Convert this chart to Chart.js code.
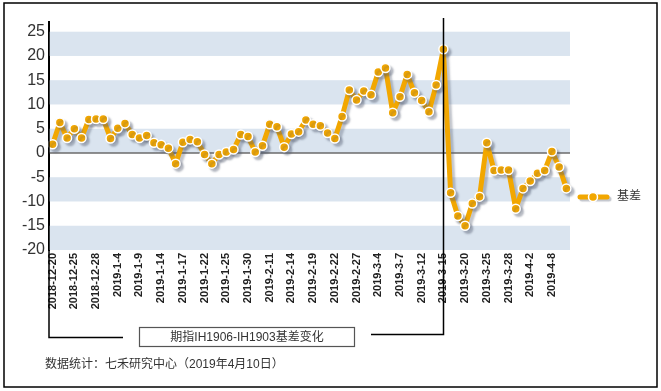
<!DOCTYPE html>
<html>
<head>
<meta charset="utf-8">
<script src="https://cdn.jsdelivr.net/npm/chart.js@4"></script>
<style>
	body { margin: 0; background: #fff; }
	#wrap { width: 661px; height: 391px; }
</style>
</head>
<body>
<div id="wrap"><canvas id="basisChart" width="661" height="391"></canvas></div>
<script>
//IH1906-IH1903 basis, daily

const tradeDates = [
	"2018-12-20", "2018-12-21", "2018-12-24", "2018-12-25", "2018-12-26", "2018-12-27", "2018-12-28",
	"2019-1-2", "2019-1-3", "2019-1-4", "2019-1-7", "2019-1-8", "2019-1-9", "2019-1-10", "2019-1-11",
	"2019-1-14", "2019-1-15", "2019-1-16", "2019-1-17", "2019-1-18",
	"2019-1-21", "2019-1-22", "2019-1-23", "2019-1-24", "2019-1-25",
	"2019-1-28", "2019-1-29", "2019-1-30", "2019-1-31", "2019-2-1",
	"2019-2-11", "2019-2-12", "2019-2-13", "2019-2-14", "2019-2-15",
	"2019-2-18", "2019-2-19", "2019-2-20", "2019-2-21", "2019-2-22",
	"2019-2-25", "2019-2-26", "2019-2-27", "2019-2-28", "2019-3-1",
	"2019-3-4", "2019-3-5", "2019-3-6", "2019-3-7", "2019-3-8",
	"2019-3-11", "2019-3-12", "2019-3-13", "2019-3-14", "2019-3-15",
	"2019-3-18", "2019-3-19", "2019-3-20", "2019-3-21", "2019-3-22",
	"2019-3-25", "2019-3-26", "2019-3-27", "2019-3-28", "2019-3-29",
	"2019-4-1", "2019-4-2", "2019-4-3", "2019-4-4",
	"2019-4-8", "2019-4-9", "2019-4-10",
];
const basisValues = [
	1.8, 6.3, 3.1, 5.0, 3.1, 6.9, 7.0,
	7.0, 3.0, 5.1, 6.1, 3.8, 3.1, 3.6, 2.1,
	1.7, 1.0, -2.2, 2.2, 2.8,
	2.3, -0.3, -2.2, -0.3, 0.2,
	0.7, 3.8, 3.4, 0.2, 1.5,
	5.9, 5.4, 1.2, 3.9, 4.4,
	6.8, 5.9, 5.6, 4.1, 3.0,
	7.5, 13.0, 10.9, 12.8, 12.0,
	16.7, 17.5, 8.3, 11.6, 16.2,
	12.4, 10.8, 8.5, 14.0, 21.4,
	-8.2, -13.0, -15.0, -10.4, -9.0,
	2.1, -3.6, -3.5, -3.5, -11.5,
	-7.3, -5.8, -4.2, -3.6,
	0.3, -2.9, -7.3,
];
const yTickValues = [25, 20, 15, 10, 5, 0, -5, -10, -15, -20];
const shadedBands = [[20, 25], [10, 15], [0, 5], [-10, -5], [-20, -15]];
const seriesName = "基差";
const boxTitle = "期指IH1906-IH1903基差变化";
const sourceNote = "数据统计：七禾研究中心（2019年4月10日）";
const markerDate = "2019-3-15";

const orange = "#f2a700";
const cjkFont = "'Liberation Sans', Arial, 'Noto Sans CJK SC', sans-serif";

// background bands behind the line
const bandPlugin = {
	id: "bands",
	beforeDatasetsDraw(chart) {
		const ctx = chart.ctx;
		const y = chart.scales.y;
		const area = chart.chartArea;
		ctx.save();
		ctx.fillStyle = "#dae4ef";
		shadedBands.forEach(b => {
			const top = y.getPixelForValue(b[1]);
			const bottom = y.getPixelForValue(b[0]);
			ctx.fillRect(area.left, top, area.right - area.left, bottom - top);
		});
		// zero line
		const z = y.getPixelForValue(0);
		ctx.strokeStyle = "#6b6b6b";
		ctx.lineWidth = 1.5;
		ctx.beginPath();
		ctx.moveTo(area.left, z);
		ctx.lineTo(area.right, z);
		ctx.stroke();
		ctx.restore();
	},
	beforeDatasetDraw(chart) {
		const ctx = chart.ctx;
		ctx.save();
		ctx.shadowColor = "rgba(80,90,110,0.35)";
		ctx.shadowOffsetX = 3;
		ctx.shadowOffsetY = 3;
		ctx.shadowBlur = 2;
	},
	afterDatasetDraw(chart) {
		chart.ctx.restore();
	},
};

// brackets, box title, legend, note, frame
const decorPlugin = {
	id: "decor",
	afterDraw(chart) {
		const ctx = chart.ctx;
		const x = chart.scales.x;
		const area = chart.chartArea;
		ctx.save();
		ctx.strokeStyle = "#000";
		ctx.lineWidth = 1.5;

		// left bracket
		ctx.beginPath();
		ctx.moveTo(area.left, area.top);
		ctx.lineTo(area.left, 337.5);
		ctx.lineTo(123, 337.5);
		ctx.stroke();

		// divider at 2019-3-15
		const mx = Math.round(x.getPixelForValue(tradeDates.indexOf(markerDate))) + 0.5;
		ctx.beginPath();
		ctx.moveTo(mx, 18);
		ctx.lineTo(mx, 334.5);
		ctx.lineTo(371, 334.5);
		ctx.stroke();

		// title box
		ctx.strokeStyle = "#555";
		ctx.lineWidth = 1.2;
		ctx.strokeRect(139.5, 327.5, 215, 19);
		ctx.fillStyle = "#333";
		ctx.font = "12px " + cjkFont;
		ctx.textAlign = "center";
		ctx.textBaseline = "middle";
		ctx.fillText(boxTitle, 247, 337.5);

		// note
		ctx.textAlign = "left";
		ctx.fillText(sourceNote, 45, 365);

		// legend
		ctx.save();
		ctx.shadowColor = "rgba(80,90,110,0.35)";
		ctx.shadowOffsetX = 2;
		ctx.shadowOffsetY = 2;
		ctx.shadowBlur = 1;
		ctx.strokeStyle = orange;
		ctx.lineWidth = 5;
		ctx.lineCap = "round";
		ctx.beginPath();
		ctx.moveTo(580, 197);
		ctx.lineTo(607, 197);
		ctx.stroke();
		ctx.restore();
		ctx.beginPath();
		ctx.arc(593, 197, 4.5, 0, Math.PI * 2);
		ctx.fillStyle = orange;
		ctx.fill();
		ctx.strokeStyle = "#fff";
		ctx.lineWidth = 1.5;
		ctx.stroke();
		ctx.fillStyle = "#333";
		ctx.fillText(seriesName, 617, 197);

		// outer frame
		ctx.strokeStyle = "#000";
		ctx.lineWidth = 1.5;
		ctx.strokeRect(4, 3, 653, 384);
		ctx.restore();
	},
};

const basisData = {
	labels: tradeDates,
	datasets: [
		{
			label: seriesName,
			data: basisValues,
			borderColor: orange,
			backgroundColor: orange,
			borderWidth: 5,
			borderJoinStyle: "round",
			borderCapStyle: "round",
			tension: 0,
			pointRadius: 4.5,
			pointBorderWidth: 1.5,
			pointBorderColor: "#fff",
			pointBackgroundColor: orange,
		},
	],
};

const basisConfig = {
	type: "line",
	data: basisData,
	options: {
		responsive: false,
		animation: false,
		layout: { padding: { left: 4, right: 91, top: 22, bottom: 71 } },
		plugins: {
			legend: { display: false },
			tooltip: { enabled: false },
		},
		scales: {
			x: {
				offset: true,
				grid: { display: false, drawTicks: false },
				border: { display: false },
				afterFit(scale) { scale.height = 70; },
				ticks: {
					autoSkip: false,
					maxRotation: 90,
					minRotation: 90,
					padding: 3,
					color: "#222",
					font: { family: "'Liberation Sans', Arial", size: 11, weight: "bold" },
					callback(val, i) {
						return i % 3 === 0 ? this.getLabelForValue(val) : "";
					},
				},
			},
			y: {
				min: -20,
				max: 27,
				grid: { display: false, drawTicks: false },
				border: { display: true, color: "#000", width: 2 },
				afterFit(scale) { scale.width = 45; },
				afterBuildTicks(scale) {
					scale.ticks = yTickValues.map(v => ({ value: v }));
				},
				ticks: {
					padding: 4,
					color: "#333",
					font: { family: "'Liberation Sans', Arial", size: 16 },
				},
			},
		},
	},
	plugins: [bandPlugin, decorPlugin],
};

const BasisChart = new Chart(
	document.getElementById("basisChart"),
	basisConfig
);
</script>
</body>
</html>
